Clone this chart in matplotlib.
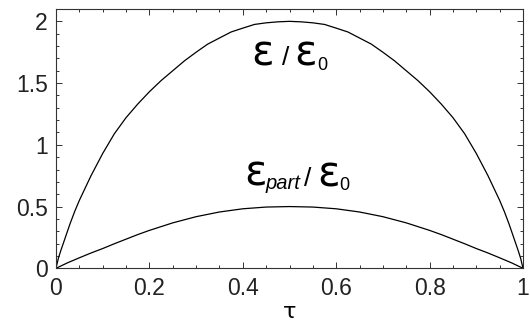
import matplotlib
matplotlib.use("Agg")
import matplotlib.pyplot as plt
from matplotlib.ticker import MultipleLocator

# ==================================================
# DATA
# ==================================================

tau = [0.0, 0.005, 0.01, 0.02, 0.03, 0.04, 0.05, 0.06, 0.075, 0.1,
       0.125, 0.15, 0.175, 0.2, 0.225, 0.25, 0.275, 0.3, 0.325, 0.35,
       0.375, 0.4, 0.425, 0.45, 0.475, 0.5,
       0.525, 0.55, 0.575, 0.6, 0.625, 0.65, 0.675, 0.7, 0.725, 0.75,
       0.775, 0.8, 0.825, 0.85, 0.875, 0.9, 0.925, 0.94, 0.95, 0.96,
       0.97, 0.98, 0.99, 0.995, 1.0]

# total  eps / eps0
eps_total = [0.0, 0.08, 0.14, 0.25, 0.36, 0.46, 0.55, 0.63, 0.75, 0.93,
             1.09, 1.22, 1.33, 1.43, 1.52, 1.60, 1.68, 1.75, 1.816, 1.865,
             1.914, 1.945, 1.975, 1.988, 1.996, 2.0,
             1.996, 1.988, 1.975, 1.945, 1.914, 1.865, 1.816, 1.75, 1.68, 1.60,
             1.52, 1.43, 1.33, 1.22, 1.09, 0.93, 0.75, 0.63, 0.55, 0.46,
             0.36, 0.25, 0.14, 0.08, 0.0]

# partial  eps_part / eps0
tau_part = [0.0, 0.025, 0.05, 0.075, 0.1, 0.125, 0.15, 0.175, 0.2, 0.25,
            0.3, 0.35, 0.4, 0.45, 0.5, 0.55, 0.6, 0.65, 0.7, 0.75,
            0.8, 0.825, 0.85, 0.875, 0.9, 0.925, 0.95, 0.975, 1.0]
eps_part = [0.0, 0.045, 0.085, 0.124, 0.16, 0.199, 0.236, 0.273, 0.307, 0.368,
            0.418, 0.456, 0.482, 0.496, 0.5, 0.496, 0.482, 0.456, 0.418, 0.368,
            0.307, 0.273, 0.236, 0.199, 0.16, 0.124, 0.085, 0.045, 0.0]

x_ticks = [0, 0.2, 0.4, 0.6, 0.8, 1]
x_tick_labels = ["0", "0.2", "0.4", "0.6", "0.8", "1"]
y_ticks = [0, 0.5, 1, 1.5, 2]
y_tick_labels = ["0", "0.5", "1", "1.5", "2"]

# ==================================================
# FIGURE
# ==================================================

plt.rcParams['font.family'] = ['Liberation Sans', 'DejaVu Sans']

fig = plt.figure(figsize=(5.3, 3.26), dpi=100)
ax = fig.add_axes([56 / 530, 1 - 268.3 / 326, 467 / 530, 259.3 / 326])

ax.plot(tau, eps_total, color='black', linewidth=0.9)
ax.plot(tau_part, eps_part, color='black', linewidth=0.9)

ax.set_xlim(0, 1)
ax.set_ylim(0, 2.1)

ax.set_xticks(x_ticks)
ax.set_xticklabels(x_tick_labels)
ax.set_yticks(y_ticks)
ax.set_yticklabels(y_tick_labels)
ax.xaxis.set_minor_locator(MultipleLocator(0.05))
ax.yaxis.set_minor_locator(MultipleLocator(0.1))

ax.tick_params(which='both', direction='in', top=True, right=True,
               width=0.7, color='#333333')
ax.tick_params(which='major', length=4.2, labelsize=16.5, pad=6,
               labelcolor='#222222')
ax.tick_params(which='minor', length=2.3)

for spine in ax.spines.values():
    spine.set_linewidth(0.8)
    spine.set_color('#333333')

ax.set_xlabel('τ', fontsize=16, family='DejaVu Sans', labelpad=1.5)

# curve labels, built from pieces
eps_font = dict(fontsize=30, family='DejaVu Sans', ha='left', va='baseline')
slash_font = dict(fontsize=19, ha='left', va='baseline')
sub_font = dict(fontsize=13, ha='left', va='baseline')

ax.text(0.418, 1.641, 'ε', **eps_font)
ax.text(0.485, 1.645, '/', **slash_font)
ax.text(0.510, 1.641, 'ε', **eps_font)
ax.text(0.559, 1.608, '0', **sub_font)

ax.text(0.404, 0.667, 'ε', **eps_font)
ax.text(0.448, 0.643, 'part', fontsize=14.5, style='italic',
        ha='left', va='baseline')
ax.text(0.530, 0.663, '/', **slash_font)
ax.text(0.560, 0.659, 'ε', **eps_font)
ax.text(0.606, 0.635, '0', **sub_font)

fig.savefig("out.png", dpi=100)
